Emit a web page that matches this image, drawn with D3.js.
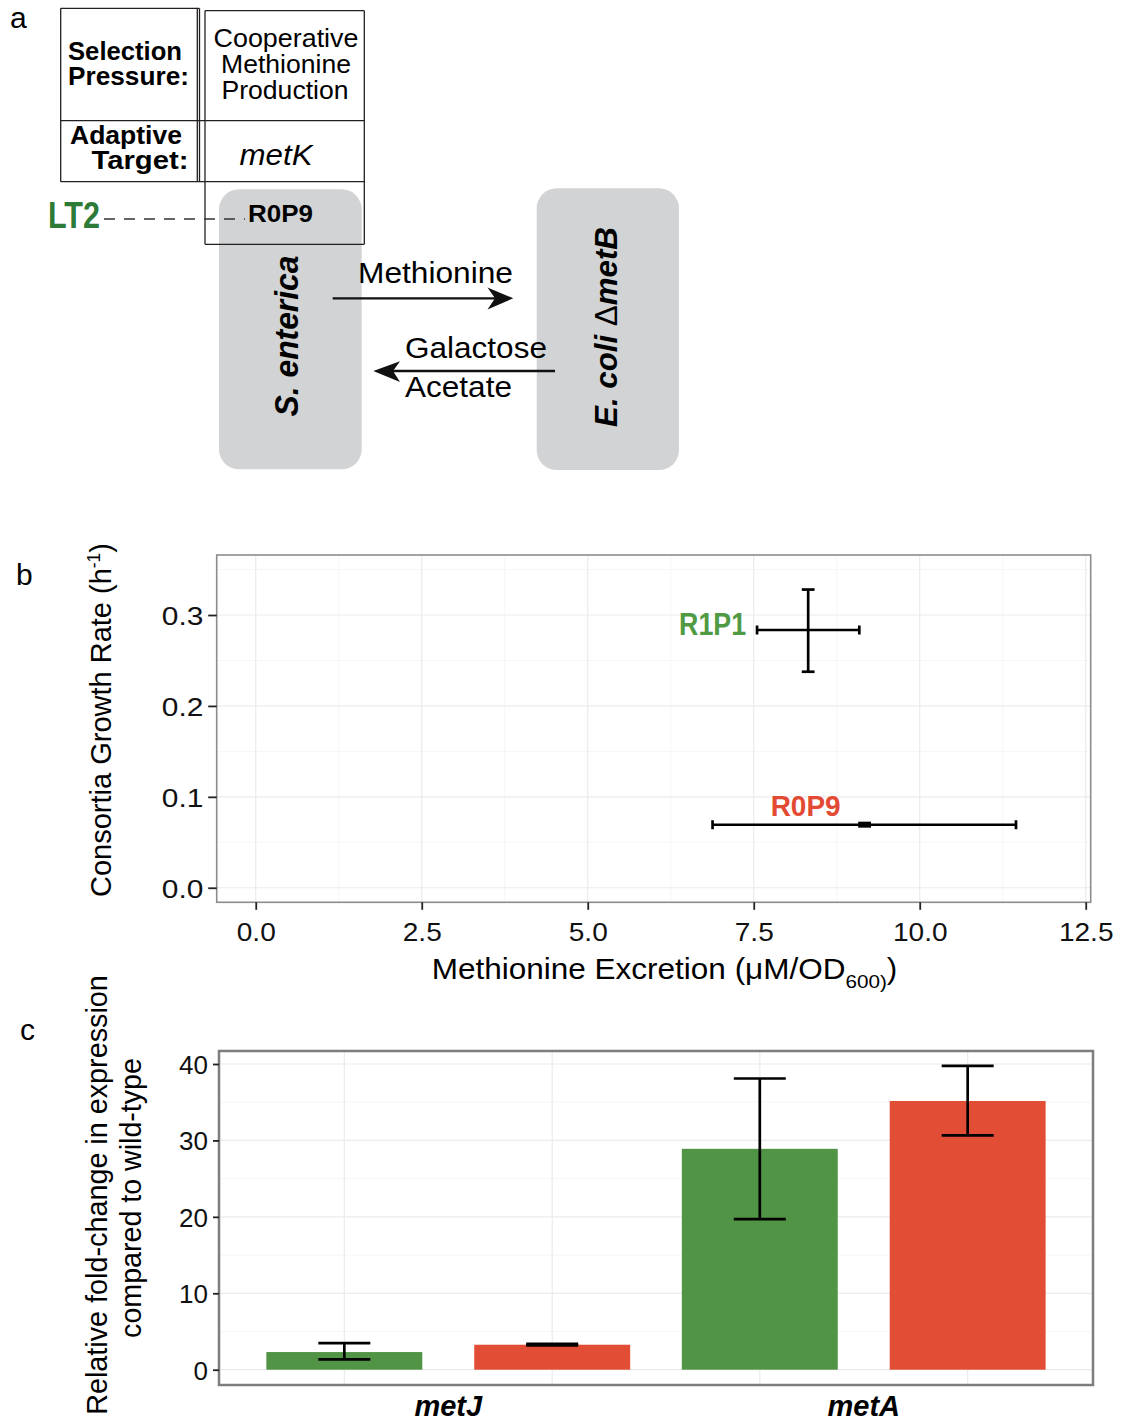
<!DOCTYPE html>
<html><head><meta charset="utf-8">
<script src="https://cdn.jsdelivr.net/npm/d3@7"></script>
<style>body{margin:0;background:#fff}</style>
</head><body>
<script>
// ---------- data: panel b ----------
const strainsB = ['R1P1', 'R0P9'];
const excretion = [8.32, 9.17];
const excretionLo = [7.55, 6.88];
const excretionHi = [9.09, 11.45];
const growth = [0.2835, 0.0693];
const growthLo = [0.2376, 0.0676];
const growthHi = [0.3280, 0.0712];
const xTicksB = [0, 2.5, 5, 7.5, 10, 12.5];
const yTicksB = [0, 0.1, 0.2, 0.3];

// ---------- data: panel c ----------
const genes = ['metJ', 'metA'];
const strainsC = ['R1P1', 'R0P9'];
const foldR1P1 = [2.31, 28.9];
const foldR1P1Lo = [1.35, 19.7];
const foldR1P1Hi = [3.49, 38.1];
const foldR0P9 = [3.27, 35.16];
const foldR0P9Lo = [3.19, 30.67];
const foldR0P9Hi = [3.40, 39.75];
const yTicksC = [0, 10, 20, 30, 40];

const FONT = "'Liberation Sans', Arial, Helvetica, sans-serif";
const BAR = { R1P1: '#519446', R0P9: '#e24d36' };
const LBL = { R1P1: '#4f9a43', R0P9: '#e24a33' };

const svg = d3.select('body').append('svg').attr('width', 1123).attr('height', 1424);
svg.append('rect').attr('width', 1123).attr('height', 1424).attr('fill', '#fff');

function T(parent, x, y, content, o = {}) {
  const g = parent.append('g').attr('transform', `translate(${x},${y})` + (o.rot ? ` rotate(${o.rot})` : ''));
  const t = g.append('text')
    .attr('text-anchor', o.anchor || 'start')
    .style('font-family', FONT)
    .style('font-size', (o.size || 20) + 'px')
    .style('font-weight', o.weight || 'normal')
    .style('font-style', o.style || 'normal')
    .attr('fill', o.fill || '#000');
  const parts = typeof content === 'string' ? [{ t: content }] : content;
  parts.forEach(p => {
    const ts = t.append('tspan').text(p.t);
    if (p.size) ts.style('font-size', p.size + 'px');
    if (p.weight) ts.style('font-weight', p.weight);
    if (p.style) ts.style('font-style', p.style);
    if (p.dy) ts.attr('dy', p.dy);
  });
  if (o.w) {
    const len = t.node().getComputedTextLength();
    if (len > 0) t.attr('transform', `scale(${o.w / len},1)`);
  }
  return t;
}
function minorOf(ticks, dom) {
  const step = ticks[1] - ticks[0];
  const ext = [ticks[0] - step].concat(ticks, [ticks[ticks.length - 1] + step]);
  const m = [];
  for (let i = 1; i < ext.length; i++) m.push((ext[i] + ext[i - 1]) / 2);
  return m.filter(v => v > Math.min(...dom) && v < Math.max(...dom));
}

// ================= panel a =================
const A = svg.append('g');
T(A, 10, 28, 'a', { size: 30 });
const grey = '#d1d3d4';
A.append('rect').attr('x', 219).attr('y', 189.3).attr('width', 142.7).attr('height', 280).attr('rx', 20).attr('fill', grey);
A.append('rect').attr('x', 536.7).attr('y', 188.3).attr('width', 142.3).attr('height', 281.7).attr('rx', 20).attr('fill', grey);

const tl = (x1, y1, x2, y2) => A.append('line').attr('x1', x1).attr('y1', y1).attr('x2', x2).attr('y2', y2)
  .attr('stroke', '#231f20').attr('stroke-width', 1.3);
tl(60.7, 8.3, 199.3, 8.3);
tl(60.7, 8.3, 60.7, 181.7);
tl(197.3, 8.3, 197.3, 181.7);
tl(199.5, 8.3, 199.5, 181.7);
tl(205, 10.7, 364.3, 10.7);
tl(205, 10.7, 205, 244.3);
tl(364.3, 10.7, 364.3, 244.3);
tl(205, 244.3, 364.3, 244.3);
tl(60.7, 120.7, 364.3, 120.7);
tl(60.7, 181.7, 364.3, 181.7);

T(A, 125, 60, 'Selection', { size: 25, weight: 'bold', anchor: 'middle', w: 114 });
T(A, 128.5, 85, 'Pressure:', { size: 25, weight: 'bold', anchor: 'middle', w: 121 });
T(A, 126, 144, 'Adaptive', { size: 25, weight: 'bold', anchor: 'middle', w: 112 });
T(A, 140, 169, 'Target:', { size: 25, weight: 'bold', anchor: 'middle', w: 97 });
T(A, 286, 47, 'Cooperative', { size: 26, anchor: 'middle', w: 145 });
T(A, 286, 73, 'Methionine', { size: 26, anchor: 'middle', w: 130 });
T(A, 285, 99, 'Production', { size: 26, anchor: 'middle', w: 127 });
T(A, 276, 165, 'metK', { size: 30, style: 'italic', anchor: 'middle', w: 73 });

A.append('line').attr('x1', 104).attr('y1', 219).attr('x2', 245).attr('y2', 219)
  .attr('stroke', '#333').attr('stroke-width', 1.7).attr('stroke-dasharray', '11,9');
T(A, 48, 228, 'LT2', { size: 36, weight: 'bold', fill: '#2e7b38', w: 52 });
T(A, 248, 222, 'R0P9', { size: 24, weight: 'bold', w: 65 });

// arrows
A.append('line').attr('x1', 332.7).attr('y1', 298.3).attr('x2', 498).attr('y2', 298.3).attr('stroke', '#111').attr('stroke-width', 2.3);
A.append('path').attr('d', 'M513.3,298.3 L487.5,287.5 L495,298.3 L487.5,309.5 Z').attr('fill', '#111');
A.append('line').attr('x1', 555).attr('y1', 371).attr('x2', 390).attr('y2', 371).attr('stroke', '#111').attr('stroke-width', 2.3);
A.append('path').attr('d', 'M373.3,371 L400,361.2 L393,371 L400,382 Z').attr('fill', '#111');

T(A, 358, 283, 'Methionine', { size: 30, w: 155 });
T(A, 405, 358, 'Galactose', { size: 30, w: 142 });
T(A, 405, 397, 'Acetate', { size: 30, w: 107 });
T(A, 298, 336, 'S. enterica', { size: 33, weight: 'bold', style: 'italic', anchor: 'middle', rot: -90, w: 161 });
T(A, 617, 327, [{ t: 'E. coli ' }, { t: 'Δ', weight: 'normal', style: 'normal' }, { t: 'metB' }],
  { size: 32, weight: 'bold', style: 'italic', anchor: 'middle', rot: -90, w: 200 });

// ================= panel b =================
const B = svg.append('g');
T(B, 16, 585, 'b', { size: 30 });
const xB = d3.scaleLinear().domain([-0.588, 12.575]).range([216.7, 1090.7]);
const yB = d3.scaleLinear().domain([-0.016, 0.366]).range([902.3, 555]);
const [bx0, bx1] = xB.range(), [by0, by1] = yB.range();

B.selectAll('.mx').data(minorOf(xTicksB, xB.domain())).join('line')
  .attr('x1', d => xB(d)).attr('x2', d => xB(d)).attr('y1', by1).attr('y2', by0)
  .attr('stroke', '#f4f4f4').attr('stroke-width', 0.8);
B.selectAll('.my').data(minorOf(yTicksB, yB.domain())).join('line')
  .attr('y1', d => yB(d)).attr('y2', d => yB(d)).attr('x1', bx0).attr('x2', bx1)
  .attr('stroke', '#f4f4f4').attr('stroke-width', 0.8);
B.selectAll('.gx').data(xTicksB).join('line')
  .attr('x1', d => xB(d)).attr('x2', d => xB(d)).attr('y1', by1).attr('y2', by0)
  .attr('stroke', '#ebebeb').attr('stroke-width', 1.2);
B.selectAll('.gy').data(yTicksB).join('line')
  .attr('y1', d => yB(d)).attr('y2', d => yB(d)).attr('x1', bx0).attr('x2', bx1)
  .attr('stroke', '#ebebeb').attr('stroke-width', 1.2);

const eb = B.append('g').attr('stroke', '#000').attr('stroke-width', 2.7).attr('fill', 'none');
strainsB.forEach((s, i) => {
  const cx = xB(excretion[i]), cy = yB(growth[i]);
  eb.append('line').attr('x1', xB(excretionLo[i])).attr('x2', xB(excretionHi[i])).attr('y1', cy).attr('y2', cy);
  eb.append('line').attr('x1', xB(excretionLo[i])).attr('x2', xB(excretionLo[i])).attr('y1', cy - 4.5).attr('y2', cy + 4.5);
  eb.append('line').attr('x1', xB(excretionHi[i])).attr('x2', xB(excretionHi[i])).attr('y1', cy - 4.5).attr('y2', cy + 4.5);
  eb.append('line').attr('x1', cx).attr('x2', cx).attr('y1', yB(growthLo[i])).attr('y2', yB(growthHi[i]));
  eb.append('line').attr('x1', cx - 6.4).attr('x2', cx + 6.4).attr('y1', yB(growthLo[i])).attr('y2', yB(growthLo[i]));
  eb.append('line').attr('x1', cx - 6.4).attr('x2', cx + 6.4).attr('y1', yB(growthHi[i])).attr('y2', yB(growthHi[i]));
});
B.append('rect').attr('x', bx0).attr('y', by1).attr('width', bx1 - bx0).attr('height', by0 - by1)
  .attr('fill', 'none').attr('stroke', '#8c8c8c').attr('stroke-width', 1.6);

const axL = B.append('g').attr('transform', `translate(${bx0},0)`)
  .call(d3.axisLeft(yB).tickValues(yTicksB).tickSize(8.5).tickFormat(d3.format('.1f')));
axL.select('.domain').remove();
axL.selectAll('line').attr('stroke', '#222').attr('stroke-width', 1.8);
axL.selectAll('text').attr('x', -13.4 / 1.15).attr('dy', '0.36em').attr('transform', 'scale(1.15,1)')
  .style('font-family', FONT).style('font-size', '26px').attr('fill', '#111');
const axB = B.append('g').attr('transform', `translate(0,${by0})`)
  .call(d3.axisBottom(xB).tickValues(xTicksB).tickSize(7.5).tickFormat(d3.format('.1f')));
axB.select('.domain').remove();
axB.selectAll('line').attr('stroke', '#222').attr('stroke-width', 1.8);
axB.selectAll('text').attr('y', 39).attr('dy', 0).attr('transform', 'scale(1.1,1)')
  .style('font-family', FONT).style('font-size', '25.5px').attr('fill', '#111');

T(B, xB(excretionLo[0]) - 11, yB(growth[0]) + 5, strainsB[0], { size: 31, weight: 'bold', fill: LBL.R1P1, anchor: 'end', w: 67 });
T(B, xB(excretion[1]) - 59, yB(growth[1]) - 9, strainsB[1], { size: 30, weight: 'bold', fill: LBL.R0P9, anchor: 'middle', w: 70 });

T(B, 431.7, 979, [{ t: 'Methionine Excretion (μM/OD' }, { t: '600)', size: 19, dy: 9 }, { t: ')', dy: -9 }], { size: 29, w: 466 });
T(B, 111, 720, [{ t: 'Consortia Growth Rate (h' }, { t: '-1', size: 18, dy: -11 }, { t: ')', dy: 11 }],
  { size: 30, anchor: 'middle', rot: -90, w: 354 });

// ================= panel c =================
const C = svg.append('g');
T(C, 20, 1040, 'c', { size: 30 });
const xC = d3.scaleBand().domain(genes).range([219, 1093]).paddingInner(0.1244).paddingOuter(0.114);
const xS = d3.scaleBand().domain(strainsC).range([0, xC.bandwidth()]).paddingInner(0.25);
const yC = d3.scaleLinear().domain([-2.0, 41.7]).range([1385, 1051]);
const [cx0, cx1] = xC.range(), [cy0, cy1] = yC.range();

const vals = { R1P1: foldR1P1, R0P9: foldR0P9 };
const los = { R1P1: foldR1P1Lo, R0P9: foldR0P9Lo };
const his = { R1P1: foldR1P1Hi, R0P9: foldR0P9Hi };
const rows = genes.flatMap((g, i) => strainsC.map(s => ({ gene: g, strain: s, v: vals[s][i], lo: los[s][i], hi: his[s][i] })));
const ctr = d => xC(d.gene) + xS(d.strain) + xS.bandwidth() / 2;

C.selectAll('.my').data(minorOf(yTicksC, yC.domain())).join('line')
  .attr('y1', d => yC(d)).attr('y2', d => yC(d)).attr('x1', cx0).attr('x2', cx1)
  .attr('stroke', '#f4f4f4').attr('stroke-width', 0.8);
C.selectAll('.gy').data(yTicksC).join('line')
  .attr('y1', d => yC(d)).attr('y2', d => yC(d)).attr('x1', cx0).attr('x2', cx1)
  .attr('stroke', '#ebebeb').attr('stroke-width', 1.2);
C.selectAll('.gx').data(rows).join('line')
  .attr('x1', ctr).attr('x2', ctr).attr('y1', cy1).attr('y2', cy0)
  .attr('stroke', '#ebebeb').attr('stroke-width', 1.2);

C.selectAll('.bar').data(rows).join('rect')
  .attr('x', d => xC(d.gene) + xS(d.strain)).attr('width', xS.bandwidth())
  .attr('y', d => yC(d.v)).attr('height', d => yC(0) - yC(d.v))
  .attr('fill', d => BAR[d.strain]);

const ec = C.append('g').attr('stroke', '#000').attr('stroke-width', 2.7);
rows.forEach(d => {
  const x = ctr(d);
  ec.append('line').attr('x1', x).attr('x2', x).attr('y1', yC(d.lo)).attr('y2', yC(d.hi));
  ec.append('line').attr('x1', x - 26).attr('x2', x + 26).attr('y1', yC(d.lo)).attr('y2', yC(d.lo));
  ec.append('line').attr('x1', x - 26).attr('x2', x + 26).attr('y1', yC(d.hi)).attr('y2', yC(d.hi));
});
C.append('rect').attr('x', cx0).attr('y', cy1).attr('width', cx1 - cx0).attr('height', cy0 - cy1)
  .attr('fill', 'none').attr('stroke', '#7d7d7d').attr('stroke-width', 2.5);

const axCL = C.append('g').attr('transform', `translate(${cx0},0)`)
  .call(d3.axisLeft(yC).tickValues(yTicksC).tickSize(6));
axCL.select('.domain').remove();
axCL.selectAll('line').attr('stroke', '#222').attr('stroke-width', 1.8);
axCL.selectAll('text').attr('x', -11).attr('dy', '0.36em')
  .style('font-family', FONT).style('font-size', '26px').attr('fill', '#111');
const axCB = C.append('g').attr('transform', `translate(0,${cy0})`)
  .call(d3.axisBottom(xC).tickSize(0));
axCB.select('.domain').remove();
axCB.selectAll('text').attr('y', 31).attr('dy', 0)
  .style('font-family', FONT).style('font-size', '29px').style('font-weight', 'bold').style('font-style', 'italic').attr('fill', '#000');

T(C, 106.7, 1195, 'Relative fold-change in expression', { size: 30, anchor: 'middle', rot: -90, w: 440 });
T(C, 141, 1198, 'compared to wild-type', { size: 30, anchor: 'middle', rot: -90, w: 280 });
</script>
</body></html>
